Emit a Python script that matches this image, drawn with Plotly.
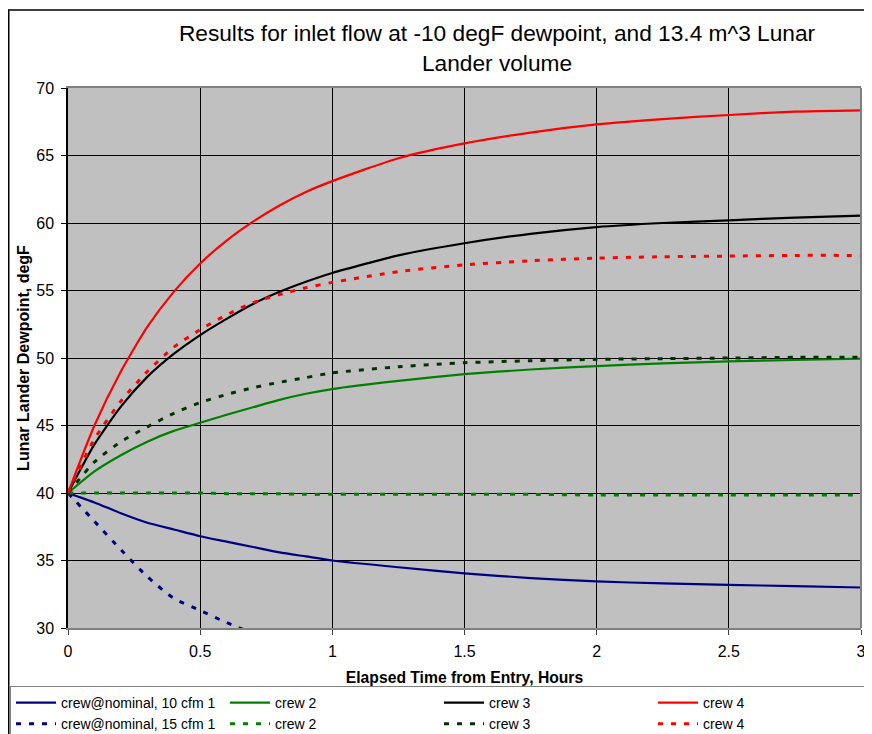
import plotly.graph_objects as go

# ---- data ----
t = [0, 0.1, 0.2, 0.3, 0.4, 0.5, 0.6, 0.7, 0.8, 0.9, 1.0,
     1.25, 1.5, 1.75, 2.0, 2.25, 2.5, 2.75, 3.0]

crew1_10 = [40, 39.3, 38.5, 37.8, 37.3, 36.8, 36.4, 36.0, 35.6, 35.3, 35.0,
            34.5, 34.05, 33.7, 33.45, 33.3, 33.2, 33.1, 33.0]
crew2_10 = [40, 41.6, 42.8, 43.8, 44.6, 45.2, 45.8, 46.35, 46.9, 47.35, 47.7,
            48.3, 48.8, 49.15, 49.4, 49.6, 49.75, 49.85, 49.95]
crew3_10 = [40, 43.6, 46.4, 48.6, 50.3, 51.7, 52.9, 54.0, 54.9, 55.65, 56.3,
            57.6, 58.5, 59.2, 59.7, 60.0, 60.2, 60.4, 60.55]
crew4_10 = [40, 45.0, 49.0, 52.3, 54.9, 57.0, 58.7, 60.1, 61.3, 62.3, 63.1,
            64.8, 65.9, 66.7, 67.3, 67.7, 68.0, 68.25, 68.35]

t1_15 = [0, 0.1, 0.2, 0.3, 0.4, 0.5, 0.6, 0.7]
crew1_15 = [40, 37.9, 35.8, 33.8, 32.2, 31.3, 30.4, 29.6]
crew2_15 = [40, 40, 40, 40, 40, 40, 39.95, 39.95, 39.95, 39.9, 39.9,
            39.9, 39.9, 39.9, 39.85, 39.85, 39.85, 39.85, 39.85]
crew3_15 = [40, 42.3, 43.8, 44.9, 45.9, 46.7, 47.3, 47.8, 48.2, 48.55, 48.9,
            49.35, 49.65, 49.8, 49.9, 49.95, 50.0, 50.05, 50.05]
crew4_15 = [40, 44.0, 46.8, 49.0, 50.8, 52.1, 53.2, 54.1, 54.7, 55.2, 55.6,
            56.4, 56.9, 57.2, 57.4, 57.5, 57.55, 57.6, 57.6]

names_10 = ["crew@nominal, 10 cfm 1", "crew 2", "crew 3", "crew 4"]
names_15 = ["crew@nominal, 15 cfm 1", "crew 2", "crew 3", "crew 4"]
colors_10 = ["#000080", "#008000", "#000000", "#FF0000"]
colors_15 = ["#000080", "#008000", "#003300", "#FF0000"]

x_ticks = [0, 0.5, 1, 1.5, 2, 2.5, 3]
y_ticks = [30, 35, 40, 45, 50, 55, 60, 65, 70]

FONT = "Liberation Sans, Arial, sans-serif"

fig = go.Figure()
series_10 = [(t, crew1_10), (t, crew2_10), (t, crew3_10), (t, crew4_10)]
series_15 = [(t1_15, crew1_15), (t, crew2_15), (t, crew3_15), (t, crew4_15)]

for (xs, ys), nm, c in zip(series_10, names_10, colors_10):
    fig.add_trace(go.Scatter(x=xs, y=ys, name=nm, mode="lines",
                             line=dict(color=c, width=2.2, shape="spline", smoothing=0.6)))
for (xs, ys), nm, c in zip(series_15, names_15, colors_15):
    fig.add_trace(go.Scatter(x=xs, y=ys, name=nm, mode="lines",
                             line=dict(color=c, width=3, dash="5px,8px", shape="spline", smoothing=0.6)))

# page is drawn with an 8px body offset, so figure px = reference px - 8
W, H = 864, 726
L, R, T, B = 60, 11, 80, 106
pw, ph = W - L - R, H - T - B

def px2x(px):
    return (px - L) / pw

def py2y(py):
    return (H - B - py) / ph

fig.update_layout(
    width=W, height=H,
    margin=dict(l=L, r=R, t=T, b=B, autoexpand=False),
    paper_bgcolor="white",
    plot_bgcolor="#C0C0C0",
    font=dict(family=FONT, color="black"),
    title=dict(
        text="Results for inlet flow at -10 degF dewpoint, and 13.4 m^3 Lunar<br>Lander volume",
        x=px2x(489), xref="paper", xanchor="center",
        y=1 - 33 / H, yref="container", yanchor="top",
        font=dict(size=22.7, family=FONT, color="black"),
    ),
    xaxis=dict(
        range=[0, 3], tickvals=x_ticks, ticktext=[f"{v:g}" for v in x_ticks],
        showgrid=True, gridcolor="#000000", gridwidth=1,
        showline=True, linecolor="#808080", linewidth=2, mirror=True,
        ticks="outside", ticklen=5, tickcolor="#404040",
        tickfont=dict(size=16, family=FONT),
        ticklabelstandoff=3,
        zeroline=False,
        title=dict(text="<b>Elapsed Time from Entry, Hours</b>", standoff=13,
                   font=dict(size=15.7, family=FONT)),
    ),
    yaxis=dict(
        range=[30, 70], tickvals=y_ticks, ticktext=[str(v) for v in y_ticks],
        showgrid=True, gridcolor="#000000", gridwidth=1,
        showline=True, linecolor="#000000", linewidth=1.5,
        ticks="outside", ticklen=5, tickcolor="#000000",
        tickfont=dict(size=16, family=FONT),
        ticklabelstandoff=4,
        zeroline=False,
        title=dict(text="<b>Lunar Lander Dewpoint, degF</b>", standoff=3,
                   font=dict(size=16, family=FONT)),
    ),
    legend=dict(
        orientation="h",
        x=px2x(2), xanchor="left",
        y=py2y(678), yanchor="top",
        bordercolor="#808080", borderwidth=1, bgcolor="white",
        font=dict(size=14, family=FONT),
        entrywidth=159, entrywidthmode="pixels",
        itemwidth=40,
        tracegroupgap=0,
    ),
    shapes=[
        dict(type="rect", xref="paper", yref="paper",
             x0=px2x(0.75), x1=px2x(880), y0=py2y(740), y1=py2y(2),
             line=dict(color="black", width=1.5), layer="below"),
        dict(type="line", xref="paper", yref="paper",
             x0=1, x1=1, y0=0, y1=1, line=dict(color="#808080", width=2)),
    ],
)

fig.write_html("out.html")
